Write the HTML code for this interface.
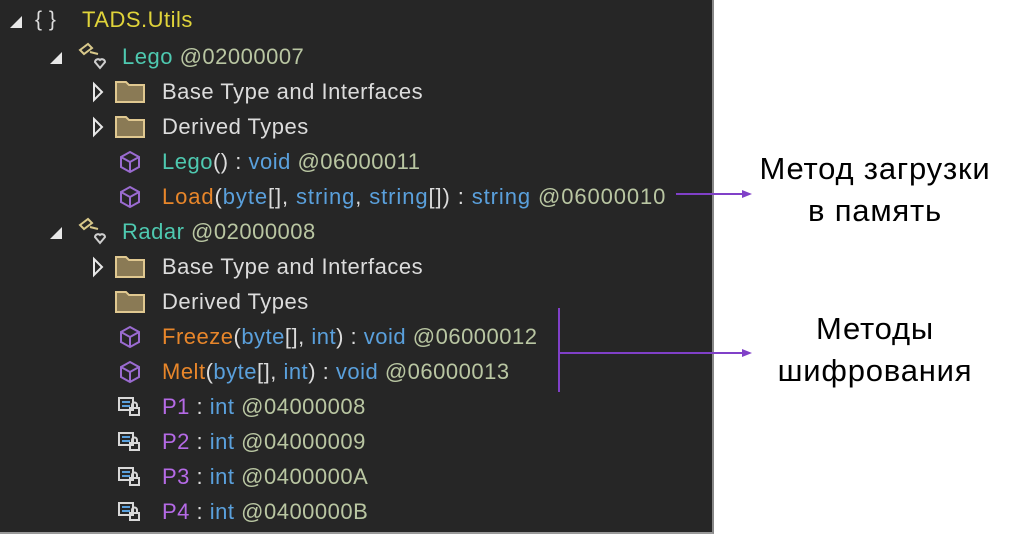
<!DOCTYPE html>
<html><head><meta charset="utf-8"><style>
body{margin:0;width:1024px;height:535px;background:#fff;position:relative;overflow:hidden;font-family:"Liberation Sans",sans-serif}
#p{position:absolute;left:0;top:0;width:712px;height:532px;background:#262626;border-right:2px solid #888;border-bottom:2px solid #999}
.r{position:absolute;font-size:22px;line-height:24px;white-space:nowrap;color:#dcdcdc;letter-spacing:0.5px}
.t{color:#4ec9b0}.a{color:#b9c6a2}.b{color:#5aa0dc}.o{color:#e8862a}.pu{color:#b56ae6}.y{color:#e0d43a}
svg.i{position:absolute}
.lab{position:absolute;font-size:31px;color:#000;text-align:center;width:300px;left:725px;line-height:42px;letter-spacing:0.8px}
</style></head><body>
<div id="p">
<svg class="i" style="left:0;top:0" width="712" height="532">
<g fill="#e8e8e8">
<polygon points="10,28 22,16 22,28"/>
<polygon points="50,64 62,52 62,64"/>
<polygon points="50,239 62,227 62,239"/>
</g>
<g fill="none" stroke="#e8e8e8" stroke-width="2">
<polygon points="94,84 102,92 94,100"/>
<polygon points="94,119 102,127 94,135"/>
<polygon points="94,259 102,267 94,275"/>
</g>
<g fill="#8a7a55" stroke="#e0c890" stroke-width="2">
<path d="M116,82 h10 l3,3 h15 v17 h-28z"/>
<path d="M116,117 h10 l3,3 h15 v17 h-28z"/>
<path d="M116,257 h10 l3,3 h15 v17 h-28z"/>
<path d="M116,292 h10 l3,3 h15 v17 h-28z"/>
</g>
<g fill="none" stroke="#d8c88a" stroke-width="2">
<path d="M80,50 l8,-6 l4,4 l-8,6z M90,52 l8,2"/><path d="M80,225 l8,-6 l4,4 l-8,6z M90,227 l8,2"/>
</g>
<g fill="none" stroke="#cfcfcf" stroke-width="2">
<path d="M95,62 a3,3 0 0 1 5,-2 a3,3 0 0 1 5,2 l-5,6z"/><path d="M95,237 a3,3 0 0 1 5,-2 a3,3 0 0 1 5,2 l-5,6z"/>
</g>
<g fill="none" stroke="#9a6bd0" stroke-width="2">
<path d="M130,152 l9,5 v10 l-9,5 l-9,-5 v-10z M121,157 l9,5 l9,-5 M130,162 v10"/>
<path d="M130,187 l9,5 v10 l-9,5 l-9,-5 v-10z M121,192 l9,5 l9,-5 M130,197 v10"/>
<path d="M130,327 l9,5 v10 l-9,5 l-9,-5 v-10z M121,332 l9,5 l9,-5 M130,337 v10"/>
<path d="M130,362 l9,5 v10 l-9,5 l-9,-5 v-10z M121,367 l9,5 l9,-5 M130,372 v10"/>
</g>
<g fill="none" stroke="#d8d8d8" stroke-width="2">
<g id="f"><rect x="119" y="398" width="14" height="12"/><path d="M122,402 h8 M122,406 h8" stroke="#5aa0dc"/><rect x="130" y="408" width="9" height="7"/><path d="M132,408 v-3 a2.5,2.5 0 0 1 5,0 v3"/></g>
<use href="#f" y="35"/><use href="#f" y="70"/><use href="#f" y="105"/>
</g>
</svg>
<div class="r" style="left:35px;top:8px;font-size:21px">{ }</div>
<div class="r y" style="left:82px;top:8px">TADS.Utils</div>
<div class="r" style="left:122px;top:45px"><span class="t">Lego</span> <span class="a">@02000007</span></div>
<div class="r" style="left:162px;top:80px">Base Type and Interfaces</div>
<div class="r" style="left:162px;top:115px">Derived Types</div>
<div class="r" style="left:162px;top:150px"><span class="t">Lego</span>() : <span class="b">void</span> <span class="a">@06000011</span></div>
<div class="r" style="left:162px;top:185px;letter-spacing:0.9px"><span class="o">Load</span>(<span class="b">byte</span>[], <span class="b">string</span>, <span class="b">string</span>[]) : <span class="b">string</span> <span class="a">@06000010</span></div>
<div class="r" style="left:122px;top:220px"><span class="t">Radar</span> <span class="a">@02000008</span></div>
<div class="r" style="left:162px;top:255px">Base Type and Interfaces</div>
<div class="r" style="left:162px;top:290px">Derived Types</div>
<div class="r" style="left:162px;top:325px"><span class="o">Freeze</span>(<span class="b">byte</span>[], <span class="b">int</span>) : <span class="b">void</span> <span class="a">@06000012</span></div>
<div class="r" style="left:162px;top:360px"><span class="o">Melt</span>(<span class="b">byte</span>[], <span class="b">int</span>) : <span class="b">void</span> <span class="a">@06000013</span></div>
<div class="r" style="left:162px;top:395px"><span class="pu">P1</span> : <span class="b">int</span> <span class="a">@04000008</span></div>
<div class="r" style="left:162px;top:430px"><span class="pu">P2</span> : <span class="b">int</span> <span class="a">@04000009</span></div>
<div class="r" style="left:162px;top:465px"><span class="pu">P3</span> : <span class="b">int</span> <span class="a">@0400000A</span></div>
<div class="r" style="left:162px;top:500px"><span class="pu">P4</span> : <span class="b">int</span> <span class="a">@0400000B</span></div>
</div>
<svg style="position:absolute;left:0;top:0" width="1024" height="535">
<g stroke="#8040c8" stroke-width="2" fill="none">
<path d="M676,194 H744"/><path d="M559,308 V392 M559,353 H744"/>
</g>
<g fill="#8040c8"><polygon points="752,194 742,190 742,198"/><polygon points="752,353 742,349 742,357"/></g>
</svg>
<div class="lab" style="top:148px">Метод загрузки<br>в память</div>
<div class="lab" style="top:308px">Методы<br>шифрования</div>
</body></html>
